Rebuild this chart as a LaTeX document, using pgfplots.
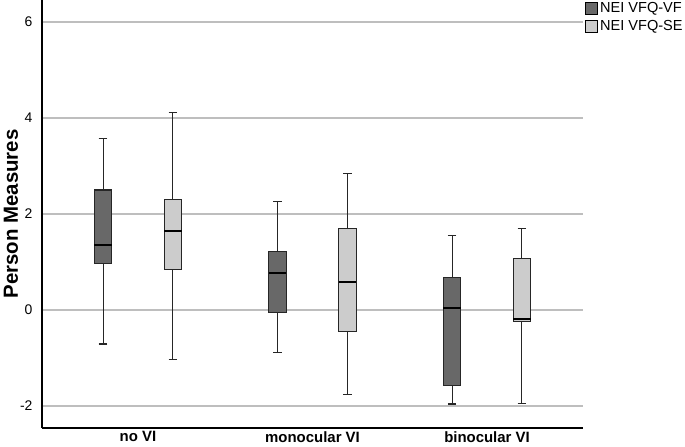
\documentclass[border=0pt]{standalone}
\usepackage{fontspec}
\setmainfont{Liberation Sans}
\usepackage{pgfplots}
\pgfplotsset{compat=1.18}
\usepgfplotslibrary{statistics}
\definecolor{vfdark}{HTML}{686868}
\definecolor{selight}{HTML}{CCCCCC}
\definecolor{gridgray}{HTML}{BEBEBE}

% one box per series and group
\pgfplotsset{
  nbox/.style n args={6}{
    boxplot prepared={draw position=#1, lower whisker=#2, lower quartile=#3,
      median=#4, upper quartile=#5, upper whisker=#6,
      draw direction=y, box extend=0.1, whisker extend=0.05,
      every median/.style={line width=2bp, black}},
    draw=black!85, line width=1.1bp, forget plot},
}

\begin{document}
\begin{tikzpicture}
\begin{axis}[
  scale only axis, width=541bp, height=428bp,
  xmin=0.45, xmax=3.55, ymin=-2.46, ymax=6.46,
  axis x line*=bottom, axis y line*=left,
  axis line style={line width=1.2bp, black},
  xtick={1,2,3}, xticklabels={no VI, monocular VI, binocular VI},
  ytick={-2,0,2,4,6},
  major tick length=0pt,
  ymajorgrids, grid style={gridgray, line width=1.2bp},
  /pgf/number format/assume math mode=true,
  xticklabel style={font=\fontsize{15}{16}\selectfont\bfseries},
  yticklabel style={font=\fontsize{14}{16}\selectfont, xshift=-6bp},
  ylabel={Person Measures},
  ylabel style={font=\fontsize{20.5}{22}\selectfont\bfseries,
    at={(axis description cs:-0.044,0.5)}, anchor=south, inner sep=0pt},
  legend image code/.code={\draw[#1] (0bp,-6bp) rectangle (12bp,6bp);},
  legend style={at={(axis description cs:1,1)}, anchor=north west,
    draw=none, fill=none, inner sep=0pt, xshift=2bp, row sep=3bp,
    nodes={font=\fontsize{14.6}{16}\selectfont, inner xsep=2bp}},
  legend cell align=left,
]
% no VI
\addplot[nbox={0.8}{-0.71}{0.96}{1.35}{2.50}{3.58}, fill=vfdark] coordinates {};
\addplot[nbox={1.2}{-1.04}{0.84}{1.65}{2.31}{4.12}, fill=selight] coordinates {};
% monocular VI
\addplot[nbox={1.8}{-0.89}{-0.06}{0.76}{1.21}{2.26}, fill=vfdark] coordinates {};
\addplot[nbox={2.2}{-1.76}{-0.45}{0.58}{1.69}{2.85}, fill=selight] coordinates {};
% binocular VI
\addplot[nbox={2.8}{-1.96}{-1.58}{0.04}{0.67}{1.56}, fill=vfdark] coordinates {};
\addplot[nbox={3.2}{-1.95}{-0.24}{-0.19}{1.08}{1.69}, fill=selight] coordinates {};

\addlegendimage{fill=vfdark, draw=black, line width=1bp}
\addlegendentry{NEI VFQ-VF}
\addlegendimage{fill=selight, draw=black, line width=1bp}
\addlegendentry{NEI VFQ-SE}
\end{axis}
\pgfresetboundingbox
\path[use as bounding box] (-42bp,-19bp) rectangle (643bp,428bp);
\end{tikzpicture}
\end{document}
